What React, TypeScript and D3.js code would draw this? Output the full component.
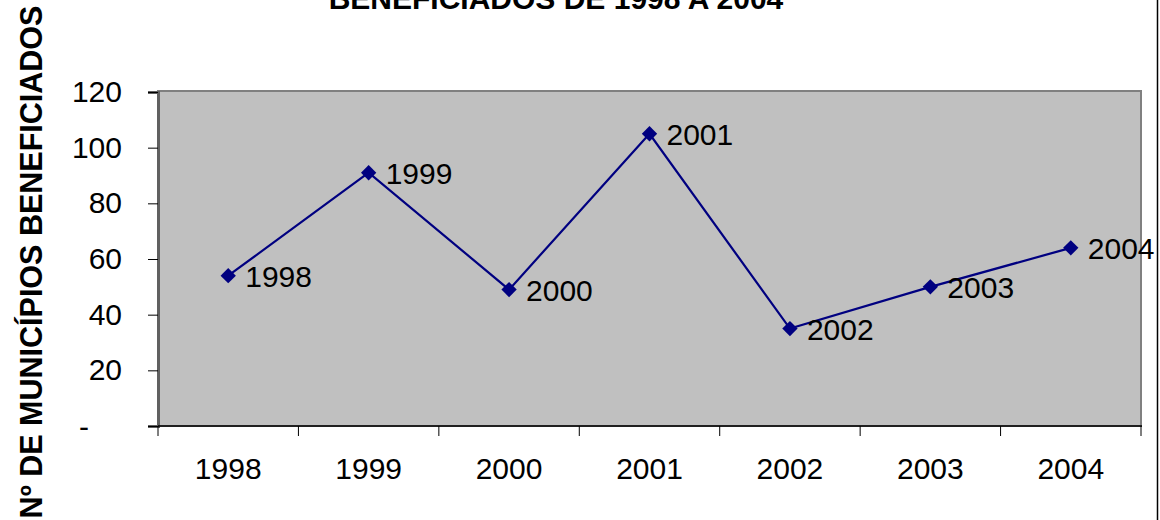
import React, { useEffect, useRef } from 'react';
import * as d3 from 'd3';

const years = ['1998', '1999', '2000', '2001', '2002', '2003', '2004'];
const municipios = [54, 91, 49, 105, 35, 50, 64];
const yTicks = [0, 20, 40, 60, 80, 100, 120];

const titleText = 'BENEFICIADOS DE 1998 A 2004';
const yLabelText = 'Nº DE MUNICÍPIOS BENEFICIADOS';

function App() {
  const ref = useRef<SVGSVGElement | null>(null);

  const width = 1160;
  const height = 520;
  const plot = { left: 158, right: 1141, top: 92, bottom: 426 };
  const font = '"Liberation Sans", Arial, sans-serif';
  const fs = 30;

  useEffect(() => {
    drawChart();
  }, []);

  function drawChart() {
    const svg = d3.select(ref.current);
    svg.selectAll('*').remove();

    const x = d3.scaleBand<string>().domain(years).range([plot.left, plot.right]).padding(0);
    const y = d3.scaleLinear().domain([0, 120]).range([plot.bottom, plot.top]);

    // plot area
    svg
      .append('rect')
      .attr('x', plot.left)
      .attr('y', y(120) - 1)
      .attr('width', plot.right - plot.left)
      .attr('height', plot.bottom - y(120) + 1)
      .attr('fill', '#c0c0c0')
      .attr('stroke', '#808080')
      .attr('stroke-width', 2);

    // y axis
    const yAxis = svg
      .append('g')
      .attr('transform', `translate(${plot.left},0)`)
      .call(
        d3
          .axisLeft(y)
          .tickValues(yTicks)
          .tickSize(10)
          .tickPadding(26)
          .tickFormat(d => ((d as number) === 0 ? '' : d3.format('d')(d as number)))
      );
    yAxis.select('.domain').attr('stroke', '#606060').attr('stroke-width', 3);
    yAxis.selectAll('.tick line').attr('stroke', '#000');
    yAxis
      .selectAll('.tick text')
      .attr('font-family', font)
      .attr('font-size', fs)
      .attr('fill', '#000');

    // zero shown as a dash (accounting style)
    svg
      .append('text')
      .attr('x', 89)
      .attr('y', y(0))
      .attr('dy', '0.35em')
      .attr('text-anchor', 'end')
      .attr('font-family', font)
      .attr('font-size', fs)
      .text('-');

    // x axis
    const xAxis = svg.append('g').attr('transform', `translate(0,${plot.bottom})`);
    xAxis
      .append('line')
      .attr('x1', plot.left)
      .attr('x2', plot.right + 1)
      .attr('y1', 0)
      .attr('y2', 0)
      .attr('stroke', '#000')
      .attr('stroke-width', 1.5);
    const bounds = years.map(d => x(d) as number).concat([plot.right]);
    xAxis
      .selectAll('line.tk')
      .data(bounds)
      .enter()
      .append('line')
      .attr('class', 'tk')
      .attr('x1', d => d)
      .attr('x2', d => d)
      .attr('y1', 0)
      .attr('y2', 10)
      .attr('stroke', '#000');
    xAxis
      .selectAll('text')
      .data(years)
      .enter()
      .append('text')
      .attr('x', d => (x(d) as number) + x.bandwidth() / 2)
      .attr('y', 53)
      .attr('text-anchor', 'middle')
      .attr('font-family', font)
      .attr('font-size', fs)
      .text(d => d);

    const pts = years.map((d, i) => ({ year: d, value: municipios[i] }));
    const cx = (d: { year: string }) => (x(d.year) as number) + x.bandwidth() / 2;

    // line
    const line = d3
      .line<{ year: string; value: number }>()
      .x(d => cx(d))
      .y(d => y(d.value));
    svg
      .append('path')
      .datum(pts)
      .attr('d', line)
      .attr('fill', 'none')
      .attr('stroke', '#000080')
      .attr('stroke-width', 2.2);

    // diamond markers
    const diamond = d3.symbol().type(d3.symbolDiamond2).size(150);
    svg
      .selectAll('path.mk')
      .data(pts)
      .enter()
      .append('path')
      .attr('class', 'mk')
      .attr('d', diamond)
      .attr('transform', d => `translate(${cx(d)},${y(d.value)})`)
      .attr('fill', '#000080');

    // data labels
    svg
      .selectAll('text.lbl')
      .data(pts)
      .enter()
      .append('text')
      .attr('class', 'lbl')
      .attr('x', d => cx(d) + 17)
      .attr('y', d => y(d.value) + 11)
      .attr('font-family', font)
      .attr('font-size', fs)
      .attr('fill', '#000')
      .text(d => d.year);

    // title (its first line falls above the picture, as in the source)
    svg
      .append('text')
      .attr('x', 556)
      .attr('y', 9)
      .attr('text-anchor', 'middle')
      .attr('font-family', font)
      .attr('font-weight', 'bold')
      .attr('font-size', 30)
      .text(titleText);

    // y axis title
    svg
      .append('text')
      .attr('transform', 'translate(42,262) rotate(-90)')
      .attr('text-anchor', 'middle')
      .attr('font-family', font)
      .attr('font-weight', 'bold')
      .attr('font-size', 30.5)
      .text(yLabelText);

    // chart area right border
    svg
      .append('line')
      .attr('x1', 1157.5)
      .attr('x2', 1157.5)
      .attr('y1', 0)
      .attr('y2', height)
      .attr('stroke', '#000')
      .attr('stroke-width', 1.5);
  }

  return (
    <svg
      ref={ref}
      width={width}
      height={height}
      style={{ position: 'absolute', left: 0, top: 0, background: '#fff' }}
    />
  );
}

export default App;
